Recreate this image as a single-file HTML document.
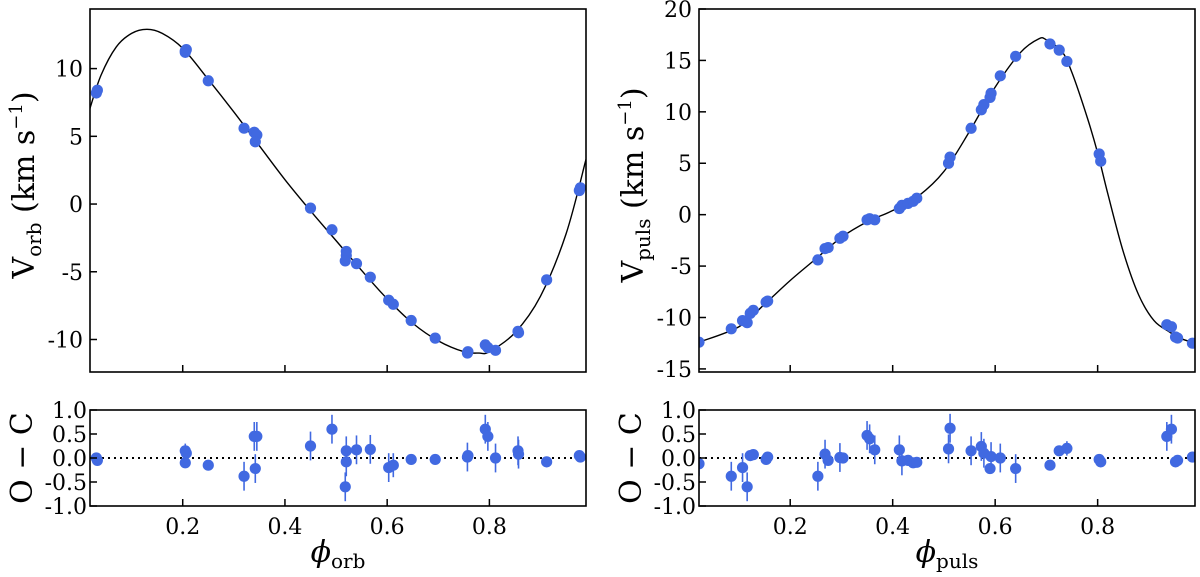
<!DOCTYPE html>
<html><head><meta charset="utf-8">
<style>
html,body{margin:0;padding:0;background:#fff;}
svg{display:block;font-family:"DejaVu Serif","Liberation Serif",serif;}
.tk{font-size:22px;fill:#000;}
.lab{font-size:30px;fill:#000;}
</style></head>
<body>
<svg id="fig" width="1200" height="577" viewBox="0 0 1200 577" xmlns="http://www.w3.org/2000/svg"></svg>
<script>
// ---- Orbital panel data ----
const orbCurvePhase = [0.018,0.04,0.07,0.1,0.13,0.16,0.2,0.25,0.3,0.35,0.4,0.45,0.5,0.55,0.6,0.65,0.7,0.75,0.78,0.8,0.85,0.9,0.95,0.989];
const orbCurveV     = [7.0,9.5,11.6,12.6,12.9,12.6,11.5,9.2,6.8,4.3,1.8,-0.5,-2.7,-4.9,-7.0,-8.8,-10.1,-10.9,-11.0,-10.9,-9.5,-6.8,-2.2,3.3];
const orbPhase = [0.031,0.033,0.205,0.207,0.205,0.25,0.32,0.34,0.345,0.342,0.45,0.492,0.52,0.52,0.518,0.54,0.567,0.603,0.612,0.647,0.694,0.757,0.758,0.792,0.797,0.812,0.856,0.857,0.912,0.976,0.978];
const orbV     = [8.2,8.4,11.2,11.4,11.3,9.1,5.6,5.3,5.1,4.6,-0.3,-1.9,-3.5,-3.8,-4.2,-4.4,-5.4,-7.1,-7.4,-8.6,-9.9,-11.0,-10.9,-10.4,-10.6,-10.8,-9.4,-9.5,-5.6,1.0,1.2];
const orbRes   = [0.0,-0.05,0.15,0.1,-0.1,-0.15,-0.38,0.45,0.45,-0.22,0.25,0.6,0.15,-0.08,-0.6,0.17,0.18,-0.2,-0.15,-0.03,-0.03,0.02,0.05,0.6,0.45,0.0,0.15,0.08,-0.08,0.05,0.02];
const orbErr   = [0.1,0.1,0.15,0.15,0.1,0.1,0.3,0.3,0.3,0.3,0.3,0.3,0.3,0.3,0.3,0.3,0.3,0.3,0.25,0.1,0.1,0.3,0.1,0.3,0.3,0.3,0.3,0.3,0.1,0.1,0.1];
const orbYTicks = [-10,-5,0,5,10];
const orbXTicks = [0.2,0.4,0.6,0.8];
// ---- Pulsation panel data ----
const pulCurvePhase = [0.022,0.1,0.15,0.2,0.25,0.3,0.35,0.4,0.45,0.5,0.55,0.6,0.65,0.685,0.7,0.73,0.75,0.78,0.8,0.82,0.85,0.88,0.91,0.94,0.96,0.99];
const pulCurveV     = [-12.4,-10.9,-8.7,-6.4,-4.3,-2.2,-0.7,0.4,1.8,4.2,8.1,12.4,15.8,17.1,17.0,15.9,13.8,9.4,6.0,2.0,-3.6,-7.8,-10.3,-11.4,-12.0,-12.5];
const pulPhase = [0.022,0.085,0.107,0.116,0.122,0.128,0.153,0.156,0.254,0.268,0.274,0.297,0.303,0.35,0.355,0.365,0.413,0.418,0.43,0.44,0.447,0.509,0.512,0.553,0.573,0.578,0.59,0.592,0.61,0.64,0.707,0.725,0.74,0.803,0.806,0.935,0.944,0.952,0.956,0.985];
const pulV     = [-12.4,-11.1,-10.3,-10.5,-9.6,-9.3,-8.5,-8.4,-4.4,-3.3,-3.2,-2.3,-2.1,-0.5,-0.4,-0.5,0.6,0.9,1.1,1.3,1.6,5.0,5.6,8.4,10.2,10.7,11.4,11.8,13.5,15.4,16.6,16.0,14.9,5.9,5.2,-10.7,-10.9,-11.9,-12.0,-12.5];
const pulRes   = [-0.12,-0.38,-0.2,-0.6,0.05,0.07,-0.03,0.02,-0.38,0.08,-0.05,0.01,0.0,0.47,0.4,0.17,0.17,-0.06,-0.05,-0.1,-0.09,0.19,0.62,0.15,0.24,0.1,-0.22,0.03,0.0,-0.22,-0.15,0.15,0.2,-0.03,-0.08,0.45,0.6,-0.08,-0.05,0.02];
const pulErr   = [0.25,0.3,0.3,0.3,0.1,0.1,0.1,0.1,0.3,0.3,0.1,0.3,0.1,0.3,0.3,0.3,0.3,0.3,0.1,0.1,0.1,0.3,0.3,0.3,0.3,0.3,0.1,0.3,0.3,0.3,0.1,0.1,0.15,0.1,0.1,0.3,0.3,0.1,0.1,0.1];
const pulYTicks = [-15,-10,-5,0,5,10,15,20];
const pulXTicks = [0.2,0.4,0.6,0.8];
const resYTicks = [-1.0,-0.5,0.0,0.5,1.0];

const NS="http://www.w3.org/2000/svg";
const svg=document.getElementById('fig');
function mk(tag,attrs,parent){const e=document.createElementNS(NS,tag);for(const k in attrs)e.setAttribute(k,attrs[k]);(parent||svg).appendChild(e);return e;}
function lin(d0,d1,r0,r1){return v=>r0+(v-d0)*(r1-r0)/(d1-d0);}
function smooth(pts){let d=`M${pts[0][0]},${pts[0][1]}`;for(let i=0;i<pts.length-1;i++){const p0=pts[Math.max(0,i-1)],p1=pts[i],p2=pts[i+1],p3=pts[Math.min(pts.length-1,i+2)];
const c1x=p1[0]+(p2[0]-p0[0])/6,c1y=p1[1]+(p2[1]-p0[1])/6,c2x=p2[0]-(p3[0]-p1[0])/6,c2y=p2[1]-(p3[1]-p1[1])/6;d+=` C${c1x},${c1y} ${c2x},${c2y} ${p2[0]},${p2[1]}`;}return d;}

function panel(cfg){
  const g=mk('g',{});
  
  
  const X=lin(cfg.xlim[0],cfg.xlim[1],cfg.L,cfg.R);
  const Y=lin(cfg.ylim[0],cfg.ylim[1],372,9);
  const RY=lin(-1,1,506,410);
  const clipId='clip-'+cfg.name;
  const cp=mk('clipPath',{id:clipId},g);mk('rect',{x:cfg.L,y:9,width:cfg.R-cfg.L,height:363},cp);
  const rclip='rclip-'+cfg.name;
  const cp2=mk('clipPath',{id:rclip},g);mk('rect',{x:cfg.L,y:410,width:cfg.R-cfg.L,height:96},cp2);
  const pts=cfg.cPh.map((p,i)=>[X(p),Y(cfg.cV[i])]);
  const c=mk('path',{d:smooth(pts),fill:'none',stroke:'#000','stroke-width':1.4,'clip-path':`url(#${clipId})`},g);
  
  
  cfg.ph.forEach((p,i)=>{
    const m=mk('circle',{cx:X(p),cy:Y(cfg.v[i]),r:5.6,fill:'#4169e1','clip-path':`url(#${clipId})`},g);
    
    
  });
  const z=mk('line',{x1:cfg.L,x2:cfg.R,y1:RY(0),y2:RY(0),stroke:'#000','stroke-width':2,'stroke-dasharray':'2,4'},g);
  
  
  cfg.res.forEach((r,i)=>{
    const x=X(cfg.ph[i]);
    const e=mk('line',{x1:x,x2:x,y1:RY(r-cfg.err[i]),y2:RY(r+cfg.err[i]),stroke:'#4169e1','stroke-width':1.6,'clip-path':`url(#${rclip})`},g);
    
    
    const m=mk('circle',{cx:x,cy:RY(r),r:5.6,fill:'#4169e1','clip-path':`url(#${rclip})`},g);
    
    
  });
  const f1=mk('rect',{x:cfg.L,y:9,width:cfg.R-cfg.L,height:363,fill:'none',stroke:'#000','stroke-width':1.6},g);
  
  
  const f2=mk('rect',{x:cfg.L,y:410,width:cfg.R-cfg.L,height:96,fill:'none',stroke:'#000','stroke-width':1.6},g);
  
  
  cfg.yt.forEach(t=>{
    const y=Y(t);
    mk('line',{x1:cfg.L,x2:cfg.L+7,y1:y,y2:y,stroke:'#000','stroke-width':1.5},g);
    const tx=mk('text',{x:cfg.L-7,y:y+8,'text-anchor':'end',class:'tk'},g);
    tx.textContent=String(t);
    
    
  });
  resYTicks.forEach(t=>{
    const y=RY(t);
    mk('line',{x1:cfg.L,x2:cfg.L+7,y1:y,y2:y,stroke:'#000','stroke-width':1.5},g);
    const tx=mk('text',{x:cfg.L-3,y:y+8,'text-anchor':'end',class:'tk'},g);
    tx.textContent=t.toFixed(1);
    
    
  });
  cfg.xt.forEach(t=>{
    const x=X(t);
    mk('line',{x1:x,x2:x,y1:372,y2:365,stroke:'#000','stroke-width':1.5},g);
    mk('line',{x1:x,x2:x,y1:506,y2:499,stroke:'#000','stroke-width':1.5},g);
    const tx=mk('text',{x:x,y:534,'text-anchor':'middle',class:'tk'},g);
    tx.textContent=t.toFixed(1);
    
    
  });
  const yl=mk('text',{transform:`translate(${cfg.L-56},185) rotate(-90)`,'text-anchor':'middle',class:'lab'},g);
  yl.innerHTML=`V<tspan font-size="20" dy="7">${cfg.sub}</tspan><tspan dy="-7"> (km s</tspan><tspan font-size="18" dy="-12">−1</tspan><tspan dy="12">)</tspan>`;
  
  
  const rl=mk('text',{transform:`translate(${cfg.L-58},458) rotate(-90)`,'text-anchor':'middle',class:'lab'},g);
  rl.textContent='O − C';
  
  
  const xl=mk('text',{x:(cfg.L+cfg.R)/2,y:562,'text-anchor':'middle',class:'lab'},g);
  xl.innerHTML=`<tspan font-style="italic">ϕ</tspan><tspan font-size="20" dy="6">${cfg.sub}</tspan>`;
  
  
}
panel({name:'orbital',L:90,R:586,xlim:[0.0186,0.989],ylim:[-12.4,14.4],cPh:orbCurvePhase,cV:orbCurveV,ph:orbPhase,v:orbV,res:orbRes,err:orbErr,yt:orbYTicks,xt:orbXTicks,sub:'orb'});
panel({name:'pulsation',L:699,R:1195,xlim:[0.022,0.990],ylim:[-15.3,20],cPh:pulCurvePhase,cV:pulCurveV,ph:pulPhase,v:pulV,res:pulRes,err:pulErr,yt:pulYTicks,xt:pulXTicks,sub:'puls'});
</script>
</body></html>
